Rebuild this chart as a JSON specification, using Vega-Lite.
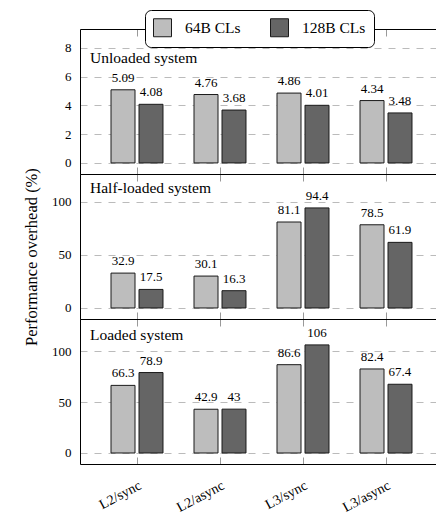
{
  "$schema": "https://vega.github.io/schema/vega-lite/v6.json",
  "padding": {"left": 23, "top": 9, "right": 0, "bottom": 0},
  "config": {
    "font": "Liberation Serif",
    "view": {"stroke": null},
    "axis": {"labelFont": "Liberation Serif", "titleFont": "Liberation Serif", "labelColor": "black", "titleColor": "black"},
    "title": {"font": "Liberation Serif", "fontWeight": "normal", "color": "black"}
  },
  "datasets": {
    "perf": [
      {"load": "Unloaded system", "config": "L2/sync", "cl": "64B CLs", "value": 5.09},
      {"load": "Unloaded system", "config": "L2/sync", "cl": "128B CLs", "value": 4.08},
      {"load": "Unloaded system", "config": "L2/async", "cl": "64B CLs", "value": 4.76},
      {"load": "Unloaded system", "config": "L2/async", "cl": "128B CLs", "value": 3.68},
      {"load": "Unloaded system", "config": "L3/sync", "cl": "64B CLs", "value": 4.86},
      {"load": "Unloaded system", "config": "L3/sync", "cl": "128B CLs", "value": 4.01},
      {"load": "Unloaded system", "config": "L3/async", "cl": "64B CLs", "value": 4.34},
      {"load": "Unloaded system", "config": "L3/async", "cl": "128B CLs", "value": 3.48},
      {"load": "Half-loaded system", "config": "L2/sync", "cl": "64B CLs", "value": 32.9},
      {"load": "Half-loaded system", "config": "L2/sync", "cl": "128B CLs", "value": 17.5},
      {"load": "Half-loaded system", "config": "L2/async", "cl": "64B CLs", "value": 30.1},
      {"load": "Half-loaded system", "config": "L2/async", "cl": "128B CLs", "value": 16.3},
      {"load": "Half-loaded system", "config": "L3/sync", "cl": "64B CLs", "value": 81.1},
      {"load": "Half-loaded system", "config": "L3/sync", "cl": "128B CLs", "value": 94.4},
      {"load": "Half-loaded system", "config": "L3/async", "cl": "64B CLs", "value": 78.5},
      {"load": "Half-loaded system", "config": "L3/async", "cl": "128B CLs", "value": 61.9},
      {"load": "Loaded system", "config": "L2/sync", "cl": "64B CLs", "value": 66.3},
      {"load": "Loaded system", "config": "L2/sync", "cl": "128B CLs", "value": 78.9},
      {"load": "Loaded system", "config": "L2/async", "cl": "64B CLs", "value": 42.9},
      {"load": "Loaded system", "config": "L2/async", "cl": "128B CLs", "value": 43},
      {"load": "Loaded system", "config": "L3/sync", "cl": "64B CLs", "value": 86.6},
      {"load": "Loaded system", "config": "L3/sync", "cl": "128B CLs", "value": 106},
      {"load": "Loaded system", "config": "L3/async", "cl": "64B CLs", "value": 82.4},
      {"load": "Loaded system", "config": "L3/async", "cl": "128B CLs", "value": 67.4}
    ]
  },
  "resolve": {"scale": {"color": "independent"}},
  "spacing": 0,
  "bounds": "flush",
  "vconcat": [
    {
      "width": 356,
      "height": 145,
      "title": {"text": "Unloaded system", "anchor": "start", "frame": "group", "orient": "top", "offset": -68.5, "dx": 10, "baseline": "alphabetic", "fontSize": 15.5},
      "data": {"name": "perf"},
      "transform": [{"filter": "datum.load === 'Unloaded system'"}],
      "encoding": {
        "xOffset": {"field": "cl", "type": "nominal", "sort": ["64B CLs", "128B CLs"], "scale": {"paddingInner": 0.143, "paddingOuter": 0.554}},
        "y": {"field": "value", "type": "quantitative",
          "scale": {"domain": [-0.77, 9.32], "nice": false, "zero": false},
          "axis": {"values": [0, 2, 4, 6, 8], "domainColor": "black", "domainWidth": 1, "ticks": false, "labelFontSize": 13, "labelPadding": 9, "grid": true, "gridColor": "#bbbbbb", "gridDash": [7, 7], "gridWidth": 1,
            "title": "Performance overhead (%)", "titleFontSize": 16.5, "titleFontWeight": "normal", "titlePadding": 25, "titleY": 227.5}}
      },
      "resolve": {"axis": {"x": "independent"}},
      "layer": [
        {
          "mark": {"type": "bar", "stroke": "#1a1a1a", "strokeWidth": 1},
          "encoding": {
            "x": {"field": "config", "type": "nominal", "sort": null,
              "scale": {"paddingInner": 0, "paddingOuter": 0.1446, "align": 0.646},
              "axis": {"orient": "bottom", "domainColor": "black", "domainWidth": 1, "tickSize": -7, "tickColor": "#999999", "labels": false, "title": null, "grid": false}},
            "y2": {"datum": 0},
            "color": {"field": "cl", "type": "nominal", "sort": ["64B CLs", "128B CLs"],
              "scale": {"domain": ["64B CLs", "128B CLs"], "range": ["#bdbdbd", "#656565"]},
              "legend": {"title": null, "orient": "none", "legendX": 65, "legendY": -19, "direction": "horizontal",
                "symbolType": "square", "symbolSize": 324, "symbolStrokeColor": "#1a1a1a", "symbolStrokeWidth": 1, "symbolOpacity": 1,
                "labelFont": "Liberation Serif", "labelFontSize": 15.5, "labelColor": "black", "labelOffset": 13, "columnPadding": 27,
                "padding": 8, "strokeColor": "black", "fillColor": "white", "cornerRadius": 6}}
          }
        },
        {
          "mark": {"type": "text", "baseline": "alphabetic", "dy": -8, "fontSize": 13, "font": "Liberation Serif", "fill": "black"},
          "encoding": {
            "x": {"field": "config", "type": "nominal", "sort": null,
              "axis": {"orient": "top", "domainColor": "black", "domainWidth": 1, "tickSize": -7, "tickColor": "#999999", "labels": false, "title": null, "grid": false}},
            "text": {"field": "value", "type": "quantitative"}
          }
        }
      ]
    },
    {
      "width": 356,
      "height": 145,
      "title": {"text": "Half-loaded system", "anchor": "start", "frame": "group", "orient": "top", "offset": -34.5, "dx": 10, "baseline": "alphabetic", "fontSize": 15.5},
      "data": {"name": "perf"},
      "transform": [{"filter": "datum.load === 'Half-loaded system'"}],
      "encoding": {
        "xOffset": {"field": "cl", "type": "nominal", "sort": ["64B CLs", "128B CLs"], "scale": {"paddingInner": 0.143, "paddingOuter": 0.554}},
        "y": {"field": "value", "type": "quantitative",
          "scale": {"domain": [-10.4, 126.4], "nice": false, "zero": false},
          "axis": {"values": [0, 50, 100], "domainColor": "black", "domainWidth": 1, "ticks": false, "labelFontSize": 13, "labelPadding": 9, "grid": true, "gridColor": "#bbbbbb", "gridDash": [7, 7], "gridWidth": 1, "title": null}}
      },
      "resolve": {"axis": {"x": "independent"}},
      "layer": [
        {
          "mark": {"type": "bar", "stroke": "#1a1a1a", "strokeWidth": 1},
          "encoding": {
            "x": {"field": "config", "type": "nominal", "sort": null,
              "scale": {"paddingInner": 0, "paddingOuter": 0.1446, "align": 0.646},
              "axis": {"orient": "bottom", "domainColor": "black", "domainWidth": 1, "tickSize": -7, "tickColor": "#999999", "labels": false, "title": null, "grid": false}},
            "y2": {"datum": 0},
            "color": {"field": "cl", "type": "nominal", "sort": ["64B CLs", "128B CLs"],
              "scale": {"domain": ["64B CLs", "128B CLs"], "range": ["#bdbdbd", "#656565"]}, "legend": null}
          }
        },
        {
          "mark": {"type": "text", "baseline": "alphabetic", "dy": -8, "fontSize": 13, "font": "Liberation Serif", "fill": "black"},
          "encoding": {
            "x": {"field": "config", "type": "nominal", "sort": null,
              "axis": {"orient": "top", "domainColor": "black", "domainWidth": 1, "tickSize": -7, "tickColor": "#999999", "labels": false, "title": null, "grid": false}},
            "text": {"field": "value", "type": "quantitative"}
          }
        }
      ]
    },
    {
      "width": 356,
      "height": 145,
      "title": {"text": "Loaded system", "anchor": "start", "frame": "group", "orient": "top", "offset": -36.5, "dx": 10, "baseline": "alphabetic", "fontSize": 15.5},
      "data": {"name": "perf"},
      "transform": [{"filter": "datum.load === 'Loaded system'"}],
      "encoding": {
        "xOffset": {"field": "cl", "type": "nominal", "sort": ["64B CLs", "128B CLs"], "scale": {"paddingInner": 0.143, "paddingOuter": 0.554}},
        "y": {"field": "value", "type": "quantitative",
          "scale": {"domain": [-10.8, 131.4], "nice": false, "zero": false},
          "axis": {"values": [0, 50, 100], "domainColor": "black", "domainWidth": 1, "ticks": false, "labelFontSize": 13, "labelPadding": 9, "grid": true, "gridColor": "#bbbbbb", "gridDash": [7, 7], "gridWidth": 1, "title": null}}
      },
      "resolve": {"axis": {"x": "independent"}},
      "layer": [
        {
          "mark": {"type": "bar", "stroke": "#1a1a1a", "strokeWidth": 1},
          "encoding": {
            "x": {"field": "config", "type": "nominal", "sort": null,
              "scale": {"paddingInner": 0, "paddingOuter": 0.1446, "align": 0.646},
              "axis": {"orient": "bottom", "domainColor": "black", "domainWidth": 1, "tickSize": -7, "tickColor": "#999999",
                "labels": true, "labelAngle": -28, "labelAlign": "right", "labelBaseline": "top", "labelFontSize": 14, "labelPadding": 21, "title": null, "grid": false}},
            "y2": {"datum": 0},
            "color": {"field": "cl", "type": "nominal", "sort": ["64B CLs", "128B CLs"],
              "scale": {"domain": ["64B CLs", "128B CLs"], "range": ["#bdbdbd", "#656565"]}, "legend": null}
          }
        },
        {
          "mark": {"type": "text", "baseline": "alphabetic", "dy": -8, "fontSize": 13, "font": "Liberation Serif", "fill": "black"},
          "encoding": {
            "x": {"field": "config", "type": "nominal", "sort": null,
              "axis": {"orient": "top", "domainColor": "black", "domainWidth": 1, "tickSize": -7, "tickColor": "#999999", "labels": false, "title": null, "grid": false}},
            "text": {"field": "value", "type": "quantitative"}
          }
        }
      ]
    }
  ]
}
